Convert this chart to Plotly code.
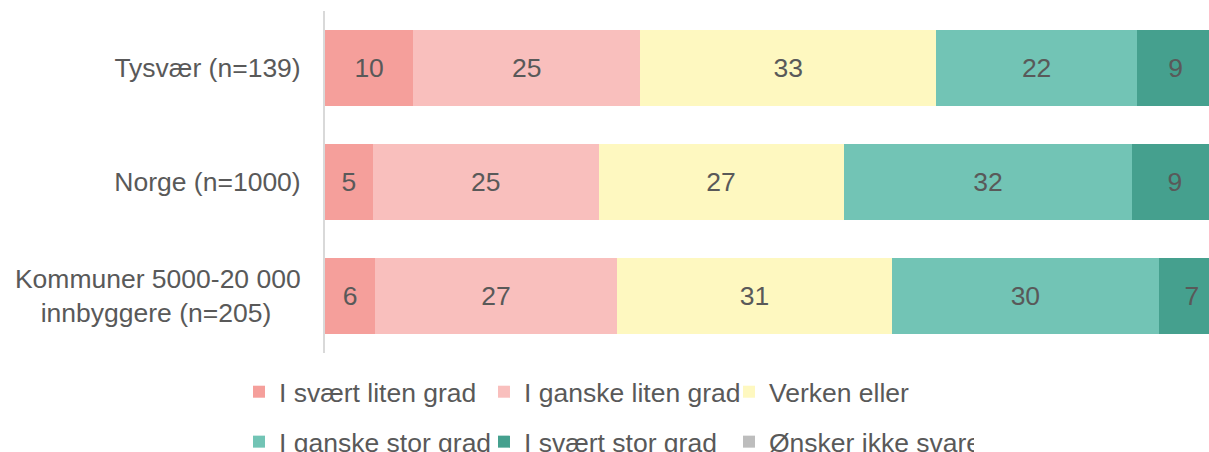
import plotly.graph_objects as go

categories = ["Tysvær (n=139)", "Norge (n=1000)",
              "Kommuner 5000-20 000<br>innbyggere (n=205)\u00a0\u00a0\u00a0\u00a0"]
series_names = ["I svært liten grad", "I ganske liten grad", "Verken eller",
                "I ganske stor grad", "I svært stor grad", "Ønsker ikke svare"]
svaert_liten = [9.8, 5.3, 5.6]
ganske_liten = [25.2, 25.1, 26.8]
verken = [32.9, 27.2, 30.6]
ganske_stor = [22.3, 32.1, 29.6]
svaert_stor = [8.6, 9.4, 7.4]
onsker_ikke = [1.2, 0.4, 0.3]

values = [svaert_liten, ganske_liten, verken, ganske_stor, svaert_stor, onsker_ikke]
colors = ["#F59F9B", "#F9BFBD", "#FEF8C0", "#72C4B5", "#45A08E", "#BDBDBD"]
legend_ids = ["legend", "legend", "legend", "legend2", "legend2", "legend2"]

FONT = "Liberation Sans, Arial, sans-serif"
TXT = "#595959"
FS = 26.5

fig = go.Figure()
for name, vals, col, lg in zip(series_names, values, colors, legend_ids):
    fig.add_trace(go.Bar(
        y=categories, x=vals, name=name, orientation="h",
        marker=dict(color=col, line=dict(width=0)),
        text=vals, texttemplate="%{x:.0f}", textposition="inside",
        insidetextanchor="middle", constraintext="none",
        textfont=dict(family=FONT, size=FS, color=TXT),
        legend=lg, hoverinfo="skip",
    ))

leg_common = dict(orientation="h", xanchor="left", yanchor="middle",
                  entrywidth=200, entrywidthmode="pixels", traceorder="normal",
                  font=dict(family=FONT, size=FS, color=TXT), bgcolor="rgba(0,0,0,0)")

fig.update_layout(
    width=1209, height=452,
    margin=dict(l=325, r=0, t=11, b=99, autoexpand=False),
    barmode="stack", bargap=0.333,
    paper_bgcolor="white", plot_bgcolor="white",
    font=dict(family=FONT, size=FS, color=TXT),
    showlegend=True,
    legend=dict(x=-0.0973, y=-0.114, **leg_common),
    legend2=dict(x=-0.0973, y=-0.260, **leg_common),
    xaxis=dict(range=[0, 98.2], showgrid=False, zeroline=False, showticklabels=False,
               showline=False, fixedrange=True),
    yaxis=dict(autorange="reversed", showgrid=False, zeroline=False,
               showline=True, linecolor="#D9D9D9", linewidth=2,
               ticks="", ticklabelstandoff=17, fixedrange=True,
               tickfont=dict(family=FONT, size=FS, color=TXT)),
)

fig.write_html("out.html", config={"displayModeBar": False},
               post_script="document.body.style.margin='0';document.body.style.overflow='hidden';")
